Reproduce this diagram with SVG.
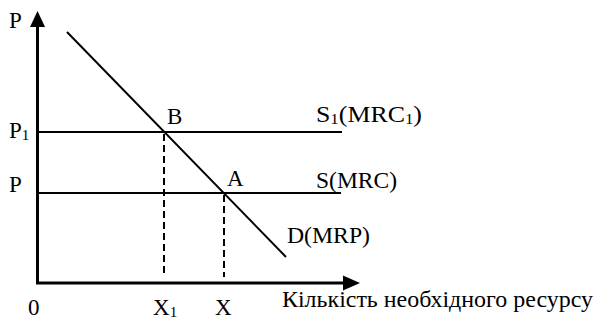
<svg xmlns="http://www.w3.org/2000/svg" width="594" height="323" viewBox="0 0 594 323">
<style>
text{font-family:"Liberation Serif","Times New Roman",serif;font-size:23px;fill:#000}
.sub{font-size:15px}
.ax{stroke:#000;stroke-width:3;fill:none}
.ln{stroke:#000;stroke-width:2;fill:none}
.dash{stroke:#000;stroke-width:2;stroke-dasharray:7 4;fill:none}
</style>
<rect width="594" height="323" fill="#fff"/>
<g id="connectors">
<line class="ax" x1="37.5" y1="283" x2="37.5" y2="24"/>
<polygon points="37.5,11 30,27 45,27" fill="#000"/>
<line class="ax" x1="36" y1="283" x2="346" y2="283"/>
<polygon points="360,283 343,275.5 343,290.5" fill="#000"/>
<line class="ln" x1="37" y1="132" x2="342" y2="132"/>
<line class="ln" x1="37" y1="193" x2="341" y2="193"/>
<line class="ln" x1="67" y1="32" x2="286" y2="257"/>
<line class="dash" x1="164" y1="134" x2="164" y2="277"/>
<line class="dash" x1="224" y1="195" x2="224" y2="277"/>
</g>
<g id="labels">
<text x="9" y="28">P</text>
<text x="9" y="138">P<tspan class="sub" dy="2">1</tspan></text>
<text x="9" y="192">P</text>
<text x="167" y="124">B</text>
<text x="227" y="186">A</text>
<text x="316" y="122" textLength="106" lengthAdjust="spacingAndGlyphs">S<tspan class="sub" dy="2">1</tspan><tspan dy="-2">(MRC</tspan><tspan class="sub" dy="2">1</tspan><tspan dy="-2">)</tspan></text>
<text x="316" y="188" textLength="81" lengthAdjust="spacingAndGlyphs">S(MRC)</text>
<text x="287" y="243" textLength="83" lengthAdjust="spacingAndGlyphs">D(MRP)</text>
<text x="28" y="315">0</text>
<text x="153" y="315">X<tspan class="sub" dy="2">1</tspan></text>
<text x="215" y="315">X</text>
<text x="282" y="307" textLength="311" lengthAdjust="spacingAndGlyphs">Кількість необхідного ресурсу</text>
</g>
</svg>
